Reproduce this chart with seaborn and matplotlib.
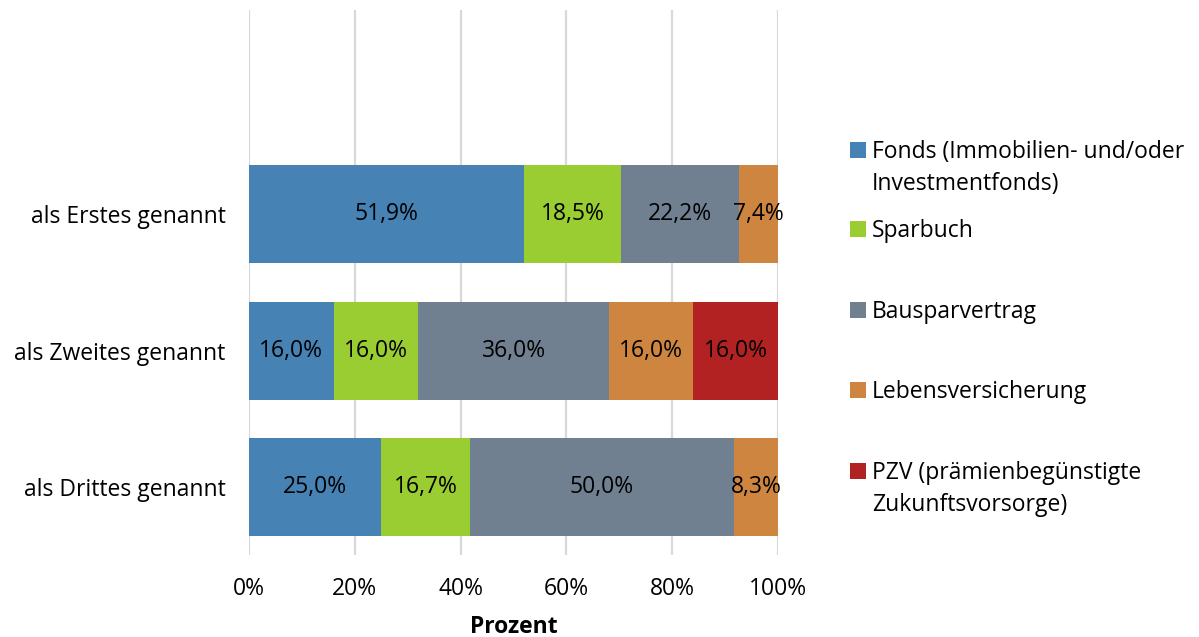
import numpy as np
import pandas as pd
import matplotlib
matplotlib.use("Agg")
import matplotlib.pyplot as plt
import seaborn as sns
from matplotlib.patches import Patch

# data
categories = ["als Erstes genannt", "als Zweites genannt", "als Drittes genannt"]
series = [
    "Fonds (Immobilien- und/oder\nInvestmentfonds)",
    "Sparbuch",
    "Bausparvertrag",
    "Lebensversicherung",
    "PZV (prämienbegünstigte\nZukunftsvorsorge)",
]
fonds = [51.9, 16.0, 25.0]
sparbuch = [18.5, 16.0, 16.7]
bauspar = [22.2, 36.0, 50.0]
lebens = [7.4, 16.0, 8.3]
pzv = [0.0, 16.0, 0.0]
x_ticks = [0, 20, 40, 60, 80, 100]
x_ticklabels = ["0%", "20%", "40%", "60%", "80%", "100%"]

colors = ["#4682B4", "#9ACD32", "#708090", "#CD853F", "#B22222"]
FS = 16.5

sns.set_theme(style="white")
plt.rcParams["font.family"] = ["Open Sans", "DejaVu Sans"]
plt.rcParams["text.color"] = "black"
plt.rcParams["axes.labelcolor"] = "black"
plt.rcParams["xtick.color"] = "black"
plt.rcParams["ytick.color"] = "black"

values = np.array([fonds, sparbuch, bauspar, lebens, pzv])
cum = np.cumsum(values, axis=0)

fig = plt.figure(figsize=(11.99, 6.37), dpi=100)
ax = fig.add_axes([0.2077, 0.1287, 0.4412, 0.8556])

# stacked bars: draw cumulative totals from the back to the front
for i in range(len(series) - 1, -1, -1):
    df = pd.DataFrame({"cat": categories, "val": cum[i]})
    sns.barplot(data=df, x="val", y="cat", orient="h", color=colors[i],
                saturation=1, width=0.72, ax=ax, linewidth=0, zorder=2)

# centered value labels
for i in range(len(series)):
    for j in range(len(categories)):
        v = values[i, j]
        if v <= 0:
            continue
        ax.text(cum[i, j] - v / 2, j, f"{v:.1f}%".replace(".", ","),
                ha="center", va="center", fontsize=FS, color="black", zorder=3)

ax.set_xlim(0, 100)
ax.set_ylim(2.5, -1.5)
ax.set_xticks(x_ticks)
ax.set_xticklabels(x_ticklabels, fontsize=FS)
ax.tick_params(axis="x", pad=16, length=0)
ax.tick_params(axis="y", pad=17, length=0, labelsize=FS)
ax.set_ylabel("")
ax.set_xlabel("Prozent", fontsize=FS, fontweight="bold", labelpad=10)
ax.grid(axis="x", color="#D9D9D9", linewidth=1.6, zorder=0)
ax.grid(axis="y", visible=False)
ax.set_axisbelow(True)
for s in ax.spines.values():
    s.set_visible(False)

# legend entries placed one by one like the Excel legend,
# marker next to the first line of a wrapped label
legend_y = [152, 231, 312, 392, 473]   # first-line centres in pixels from top
line_gap = 32
H = 637
legends = []
for i, lab in enumerate(series):
    first = lab.split("\n")[0]
    leg = fig.legend(handles=[Patch(facecolor=colors[i], edgecolor="none")],
                     labels=[first], loc="center left",
                     bbox_to_anchor=(850 / 1199, 1 - legend_y[i] / H),
                     frameon=False, fontsize=FS, handlelength=0.7,
                     handleheight=0.7, handletextpad=0.25, borderpad=0,
                     borderaxespad=0, labelcolor="black")
    legends.append(leg)

fig.canvas.draw()
renderer = fig.canvas.get_renderer()
for i, lab in enumerate(series):
    parts = lab.split("\n")
    if len(parts) < 2:
        continue
    bb = legends[i].get_texts()[0].get_window_extent(renderer)
    fig.text(bb.x0 / fig.bbox.width, 1 - (legend_y[i] + line_gap) / H,
             parts[1], fontsize=FS, ha="left", va="center", color="black")

fig.savefig("out.png", dpi=100)
